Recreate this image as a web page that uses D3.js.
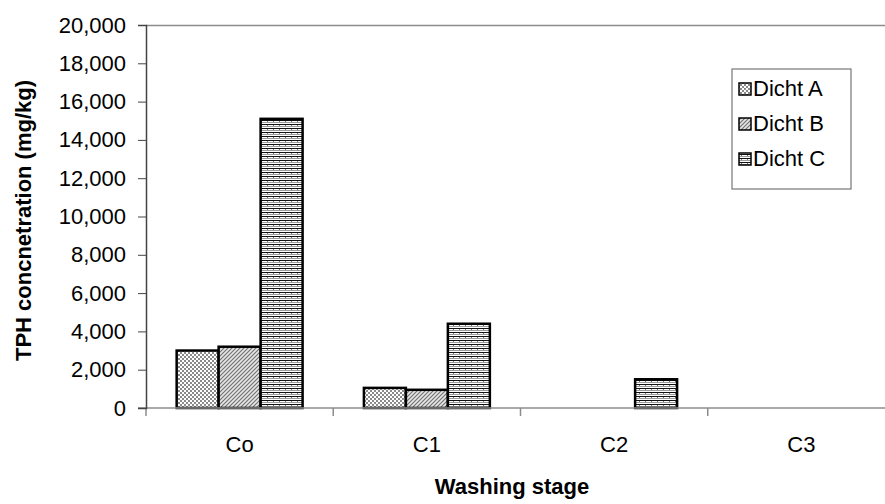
<!DOCTYPE html>
<html>
<head>
<meta charset="utf-8">
<script src="https://cdn.jsdelivr.net/npm/d3@7"></script>
<style>
  body { margin: 0; background: #fff; }
  text { font-family: "Liberation Sans", Arial, sans-serif; }
</style>
</head>
<body>
<div id="chart-area"></div>
<script>
var stages = ["Co", "C1", "C2", "C3"];
var seriesNames = ["Dicht A", "Dicht B", "Dicht C"];
var dichtA = [3000, 1050, 0, 0];
var dichtB = [3200, 950, 0, 0];
var dichtC = [15100, 4400, 1500, 0];
var yTicks = [0, 2000, 4000, 6000, 8000, 10000, 12000, 14000, 16000, 18000, 20000];

var series = [dichtA, dichtB, dichtC];
var patIds = ["patA", "patB", "patC"];

var width = 885, height = 504;
var plotLeft = 146, plotRight = 895, plotTop = 25, plotBottom = 408;

var svg = d3.select("#chart-area")
    .append("svg")
    .attr("width", width)
    .attr("height", height);

// fill patterns
var defs = svg.append("defs");
var pA = defs.append("pattern").attr("id", "patA").attr("patternUnits", "userSpaceOnUse")
    .attr("width", 4).attr("height", 4);
pA.append("rect").attr("width", 4).attr("height", 4).attr("fill", "#fff");
pA.append("rect").attr("width", 2).attr("height", 2).attr("fill", "#8a8a8a");
pA.append("rect").attr("x", 2).attr("y", 2).attr("width", 2).attr("height", 2).attr("fill", "#8a8a8a");

var pB = defs.append("pattern").attr("id", "patB").attr("patternUnits", "userSpaceOnUse")
    .attr("width", 4).attr("height", 4);
pB.append("rect").attr("width", 4).attr("height", 4).attr("fill", "#e6e6e6");
pB.append("path").attr("d", "M-1,5 L5,-1 M-1,1 L1,-1 M3,5 L5,3")
    .attr("stroke", "#6e6e6e").attr("stroke-width", 1.1);

var pC = defs.append("pattern").attr("id", "patC").attr("patternUnits", "userSpaceOnUse")
    .attr("width", 6).attr("height", 4);
pC.append("rect").attr("width", 6).attr("height", 4).attr("fill", "#fff");
pC.append("rect").attr("y", 0).attr("width", 6).attr("height", 1).attr("fill", "#111");
pC.append("rect").attr("y", 2).attr("width", 6).attr("height", 1).attr("fill", "#9a9a9a");
pC.append("rect").attr("x", 3).attr("y", 1).attr("width", 1).attr("height", 1).attr("fill", "#777");

var x = d3.scaleBand().domain(stages).range([plotLeft, plotRight]);
var xInner = d3.scaleBand().domain(seriesNames).range([0, x.bandwidth()])
    .paddingOuter(0.73).paddingInner(0);
var y = d3.scaleLinear().domain([0, 20000]).range([plotBottom, plotTop]);

// top border of plot area
svg.append("line")
    .attr("x1", plotLeft).attr("x2", width).attr("y1", plotTop + 0.5).attr("y2", plotTop + 0.5)
    .attr("stroke", "#8c8c8c").attr("stroke-width", 1.5);

// bars
stages.forEach((s, i) => {
    series.forEach((vals, j) => {
        if (vals[i] <= 0) return;
        svg.append("rect")
            .attr("x", x(s) + xInner(seriesNames[j]))
            .attr("y", y(vals[i]))
            .attr("width", xInner.bandwidth())
            .attr("height", y(0) - y(vals[i]))
            .attr("fill", "url(#" + patIds[j] + ")")
            .attr("stroke", "#000")
            .attr("stroke-width", 2.5);
    });
});

// x axis
var xAxis = svg.append("g").attr("transform", "translate(0," + plotBottom + ")");
xAxis.append("line").attr("x1", plotLeft - 8).attr("x2", width).attr("y1", 0).attr("y2", 0)
    .attr("stroke", "#8c8c8c").attr("stroke-width", 1.5);
stages.forEach((s) => {
    xAxis.append("line").attr("x1", x(s)).attr("x2", x(s)).attr("y1", 0).attr("y2", 8)
        .attr("stroke", "#8c8c8c").attr("stroke-width", 1.5);
    xAxis.append("text")
        .attr("x", x(s) + x.bandwidth() / 2)
        .attr("y", 44)
        .attr("text-anchor", "middle")
        .attr("font-size", 22)
        .text(s);
});

// y axis
var yAxis = svg.append("g")
    .attr("transform", "translate(" + plotLeft + ",0)")
    .call(d3.axisLeft(y).tickValues(yTicks).tickSize(8).tickPadding(12).tickFormat(d3.format(",")));
yAxis.select(".domain").attr("stroke", "#444").attr("stroke-width", 1.5);
yAxis.selectAll(".tick line").attr("stroke", "#444").attr("stroke-width", 1);
yAxis.selectAll(".tick text")
    .attr("font-size", 22)
    .attr("fill", "#000")
    .style("font-family", "Liberation Sans, Arial, sans-serif");

// axis titles
svg.append("text")
    .attr("transform", "translate(31," + ((plotTop + plotBottom) / 2 + 4) + ") rotate(-90)")
    .attr("text-anchor", "middle")
    .attr("font-size", 22)
    .attr("font-weight", "bold")
    .text("TPH concnetration (mg/kg)");

svg.append("text")
    .attr("x", 512)
    .attr("y", 494)
    .attr("text-anchor", "middle")
    .attr("font-size", 22)
    .attr("font-weight", "bold")
    .text("Washing stage");

// legend
var legend = svg.append("g").attr("transform", "translate(732,69)");
legend.append("rect")
    .attr("width", 119).attr("height", 120)
    .attr("fill", "#fff")
    .attr("stroke", "#777").attr("stroke-width", 1.2);
seriesNames.forEach((n, j) => {
    var g = legend.append("g").attr("transform", "translate(0," + (19 + j * 35) + ")");
    g.append("rect")
        .attr("x", 7).attr("y", -5).attr("width", 12).attr("height", 12)
        .attr("fill", "url(#" + patIds[j] + ")")
        .attr("stroke", "#000").attr("stroke-width", 1.5);
    g.append("text")
        .attr("x", 21).attr("y", 8)
        .attr("font-size", 22)
        .text(n);
});
</script>
</body>
</html>
